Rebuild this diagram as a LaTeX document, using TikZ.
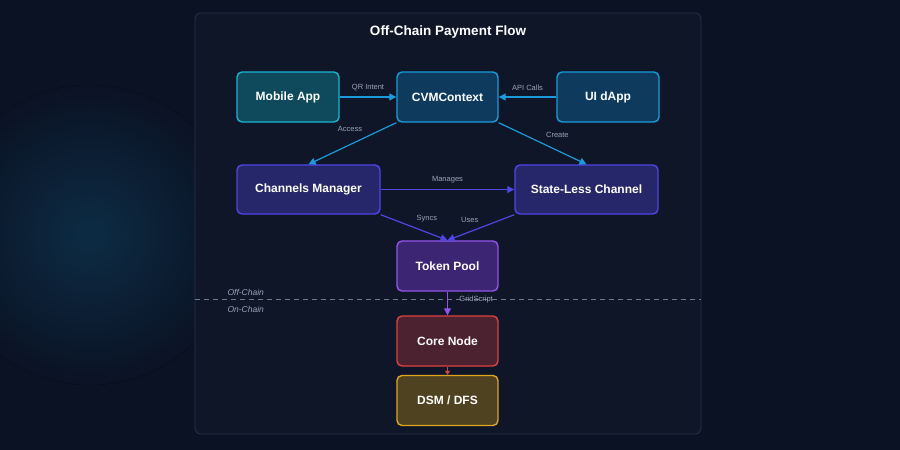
\documentclass[tikz,border=0pt]{standalone}
\usepackage{fontspec}
\setmainfont{Liberation Sans}
\usetikzlibrary{arrows.meta,positioning}
\definecolor{bg}{HTML}{0B1224}
\definecolor{panel}{HTML}{0E1628}
\definecolor{panelb}{HTML}{2A3447}
\definecolor{lbl}{HTML}{9AA6B8}
\definecolor{glow}{HTML}{0C2C44}
\definecolor{mobF}{HTML}{0E4A5C}\definecolor{mobB}{HTML}{1CB4D6}
\definecolor{cvmF}{HTML}{0E3A5E}\definecolor{cvmB}{HTML}{1A9CDC}
\definecolor{chF}{HTML}{26266A}\definecolor{chB}{HTML}{4F46E5}
\definecolor{tpF}{HTML}{3C2572}\definecolor{tpB}{HTML}{9454EC}
\definecolor{coF}{HTML}{4C2130}\definecolor{coB}{HTML}{E0403F}
\definecolor{dsF}{HTML}{4E4221}\definecolor{dsB}{HTML}{E0A51C}
\tikzset{
 box/.style={draw, line width=1.4pt, rounded corners=5pt, text=white, font=\bfseries\fontsize{12}{14}\selectfont, inner sep=0pt},
 lab/.style={text=lbl, font=\fontsize{7.5}{9}\selectfont},
 arr/.style={line width=1.2pt, -{Triangle[length=7pt,width=7pt]}},
}
\begin{document}
\begin{tikzpicture}[x=1pt,y=-1pt]
\useasboundingbox (0,0) rectangle (900,450);
\fill[bg] (0,0) rectangle (900,450);
\begin{scope}
\clip (0,0) rectangle (900,450);
\fill[inner color=glow, outer color=bg] (90,235) circle (150);
\end{scope}
\draw[panelb, fill=panel, rounded corners=6pt, line width=0.8pt] (195,13) rectangle (701,434);
\node[text=white, font=\bfseries\fontsize{13.5}{16}\selectfont] (title) at (448,32) {Off-Chain Payment Flow};
\draw[lbl!70!bg, dash pattern=on 5pt off 4pt, line width=0.8pt] (195,299) -- (701,299);
\node[lab, font=\itshape\fontsize{8.5}{10}\selectfont, anchor=west] (off) at (224,292) {Off-Chain};
\node[lab, font=\itshape\fontsize{8.5}{10}\selectfont, anchor=west] (on) at (224,309) {On-Chain};
\node[box, fill=mobF, draw=mobB, minimum width=102pt, minimum height=50pt] (mob) at (288,97) {Mobile App};
\node[box, fill=cvmF, draw=cvmB, minimum width=101pt, minimum height=50pt] (cvm) at (447.5,97) {CVMContext};
\node[box, fill=cvmF, draw=cvmB, minimum width=102pt, minimum height=50pt] (ui) at (608,97) {UI dApp};
\node[box, fill=chF, draw=chB, minimum width=143pt, minimum height=49pt] (cm) at (308.5,189.5) {Channels Manager};
\node[box, fill=chF, draw=chB, minimum width=143pt, minimum height=49pt] (sl) at (586.5,189.5) {State-Less Channel};
\node[box, fill=tpF, draw=tpB, minimum width=101pt, minimum height=50pt] (tp) at (447.5,266) {Token Pool};
\node[box, fill=coF, draw=coB, minimum width=101pt, minimum height=50pt] (co) at (447.5,341) {Core Node};
\node[box, fill=dsF, draw=dsB, minimum width=101pt, minimum height=50pt] (ds) at (447.5,400.5) {DSM / DFS};
\draw[arr, cvmB] (mob) -- (cvm) node[lab, midway, above=2pt] {QR Intent};
\draw[arr, cvmB] (ui) -- (cvm) node[lab, midway, above=2pt] {API Calls};
\draw[arr, cvmB] (cvm.south west) -- (cm.north) node[lab, pos=0.3, above left=0pt and 4pt] {Access};
\draw[arr, cvmB] (cvm.south east) -- (sl.north) node[lab, pos=0.45, above right=0pt and 4pt] {Create};
\draw[arr, chB] (cm) -- (sl) node[lab, midway, above=3pt] {Manages};
\draw[arr, chB] (cm.south east) -- (tp.north) node[lab, pos=0.45, above right=0pt and 2pt] {Syncs};
\draw[arr, chB] (sl.south west) -- (tp.north) node[lab, pos=0.45, above left=0pt and 2pt] {Uses};
\draw[arr, tpB] (tp) -- (co) node[lab, pos=0.35, right=8pt] {GridScript};
\draw[arr, coB, -{Triangle[length=4pt,width=5pt]}] (co) -- (ds);
\end{tikzpicture}
\end{document}
